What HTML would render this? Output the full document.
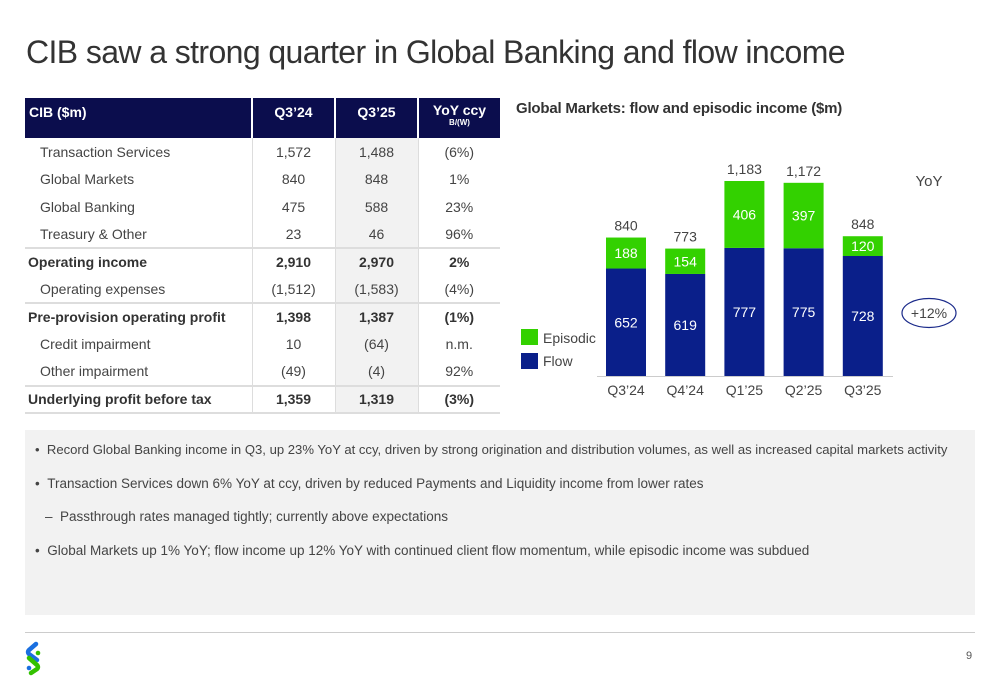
<!DOCTYPE html>
<html><head><meta charset="utf-8">
<style>
body{margin:0;width:1000px;height:685px;background:#fff;font-family:"Liberation Sans",sans-serif;color:#333;position:relative;overflow:hidden}
.title{position:absolute;left:26px;top:34px;font-size:32px;font-weight:normal;color:#333;letter-spacing:-0.6px}
table{position:absolute;left:25px;top:98px;border-collapse:collapse;font-size:14px;color:#444}
th{background:#0b0d4d;color:#fff;height:40px;font-size:14px;font-weight:bold;text-align:center;vertical-align:top;padding-top:6px;box-sizing:border-box;border-right:2px solid #fff}
th:first-child{text-align:left;padding-left:4px}
td{height:27.5px;text-align:center;padding:0;border-right:1px solid #ddd;box-sizing:border-box}
td:last-child,th:last-child{border-right:none}
td.l{text-align:left;padding-left:15px}
tr.b td{font-weight:bold;color:#333;border-top:2px solid #ddd}
tr.b td.l{padding-left:3px}
tr.last td{border-bottom:2px solid #ddd}
td.g{background:#f2f2f2}
.bul{position:absolute;left:25px;top:430px;width:950px;height:185px;background:#f2f2f2;font-size:13.5px;color:#444}
.bul div{position:absolute;left:10px;white-space:nowrap}
</style></head><body>
<div class="title">CIB saw a strong quarter in Global Banking and flow income</div>
<table>
<tr><th style="width:227px">CIB ($m)</th><th style="width:83px">Q3’24</th><th style="width:83px">Q3’25</th><th style="width:82px;line-height:10px;padding-top:7px">YoY ccy<br><span style="font-size:8px">B/(W)</span></th></tr>
<tr><td class="l">Transaction Services</td><td>1,572</td><td class="g">1,488</td><td>(6%)</td></tr>
<tr><td class="l">Global Markets</td><td>840</td><td class="g">848</td><td>1%</td></tr>
<tr><td class="l">Global Banking</td><td>475</td><td class="g">588</td><td>23%</td></tr>
<tr><td class="l">Treasury &amp; Other</td><td>23</td><td class="g">46</td><td>96%</td></tr>
<tr class="b"><td class="l">Operating income</td><td>2,910</td><td class="g">2,970</td><td>2%</td></tr>
<tr><td class="l">Operating expenses</td><td>(1,512)</td><td class="g">(1,583)</td><td>(4%)</td></tr>
<tr class="b"><td class="l">Pre-provision operating profit</td><td>1,398</td><td class="g">1,387</td><td>(1%)</td></tr>
<tr><td class="l">Credit impairment</td><td>10</td><td class="g">(64)</td><td>n.m.</td></tr>
<tr><td class="l">Other impairment</td><td>(49)</td><td class="g">(4)</td><td>92%</td></tr>
<tr class="b last"><td class="l">Underlying profit before tax</td><td>1,359</td><td class="g">1,319</td><td>(3%)</td></tr>
</table>
<svg id="chart" width="1000" height="420" style="position:absolute;left:0;top:0">
<text x="516" y="113" font-size="15" font-weight="bold" fill="#333" font-family="Liberation Sans" letter-spacing="-0.2">Global Markets: flow and episodic income ($m)</text>
<rect x="521" y="329" width="17" height="16" fill="#33d100"/>
<text x="543" y="343" font-size="14" fill="#444">Episodic</text>
<rect x="521" y="353" width="17" height="16" fill="#0a1f8a"/>
<text x="543" y="366" font-size="14" fill="#444">Flow</text>
<line x1="597" y1="376.5" x2="893" y2="376.5" stroke="#ccc" stroke-width="1"/>
<text x="929" y="186" font-size="15" fill="#444" text-anchor="middle">YoY</text>
<ellipse cx="929" cy="313" rx="27" ry="14.5" fill="none" stroke="#1a2a8a" stroke-width="1.2"/>
<text x="929" y="318" font-size="14" fill="#444" text-anchor="middle">+12%</text>
<g id="bars"></g>
</svg>
<div class="bul">
<div style="top:12px;font-size:13.1px">•&nbsp;&nbsp;Record Global Banking income in Q3, up 23% YoY at ccy, driven by strong origination and distribution volumes, as well as increased capital markets activity</div>
<div style="top:46px">•&nbsp;&nbsp;Transaction Services down 6% YoY at ccy, driven by reduced Payments and Liquidity income from lower rates</div>
<div style="top:79px;left:20px">–&nbsp;&nbsp;Passthrough rates managed tightly; currently above expectations</div>
<div style="top:113px">•&nbsp;&nbsp;Global Markets up 1% YoY; flow income up 12% YoY with continued client flow momentum, while episodic income was subdued</div>
</div>
<div style="position:absolute;left:25px;top:632px;width:950px;height:1px;background:#ccc"></div>
<svg width="22" height="36" style="position:absolute;left:23px;top:640px">
<path d="M13 4 L6 10 Q4 12 6 14 L14 20" stroke="#1a6fe0" stroke-width="4.5" fill="none" stroke-linecap="round"/>
<path d="M6 18 L14 25 Q16 27 14 29 L8 33" stroke="#33c100" stroke-width="4.5" fill="none" stroke-linecap="round"/>
<circle cx="15" cy="13" r="2.3" fill="#33c100"/><circle cx="6" cy="28" r="2.3" fill="#1a6fe0"/>
</svg>
<div style="position:absolute;left:966px;top:650px;font-size:11px;color:#555">9</div>
<script>
const categories=["Q3’24","Q4’24","Q1’25","Q2’25","Q3’25"];
const flow=[652,619,777,775,728];
const episodic=[188,154,406,397,120];
const totals=["840","773","1,183","1,172","848"];
const NS="http://www.w3.org/2000/svg";
const g=document.getElementById('bars');
const base=376,scale=195/1183,x0=626,step=59.2,bw=40;
const y=v=>base-v*scale;
function mk(t,a){const e=document.createElementNS(NS,t);for(const k in a)e.setAttribute(k,a[k]);g.appendChild(e);return e;}
categories.forEach((c,i)=>{
const cx=x0+i*step;
let r=mk('rect',{x:cx-bw/2,y:y(flow[i]),width:bw,height:flow[i]*scale,fill:'#0a1f8a'});


let r2=mk('rect',{x:cx-bw/2,y:y(flow[i]+episodic[i]),width:bw,height:episodic[i]*scale,fill:'#33d100'});


let t=mk('text',{x:cx,y:(y(flow[i])+base)/2+5,'font-size':14,fill:'#fff','text-anchor':'middle'});t.textContent=flow[i];


let t2=mk('text',{x:cx,y:(y(flow[i])+y(flow[i]+episodic[i]))/2+5,'font-size':14,fill:'#fff','text-anchor':'middle'});t2.textContent=episodic[i];


let t3=mk('text',{x:cx,y:y(flow[i]+episodic[i])-7,'font-size':14,fill:'#444','text-anchor':'middle'});t3.textContent=totals[i];


let t4=mk('text',{x:cx,y:395,'font-size':14,fill:'#444','text-anchor':'middle'});t4.textContent=c;


});
</script>
</body></html>
